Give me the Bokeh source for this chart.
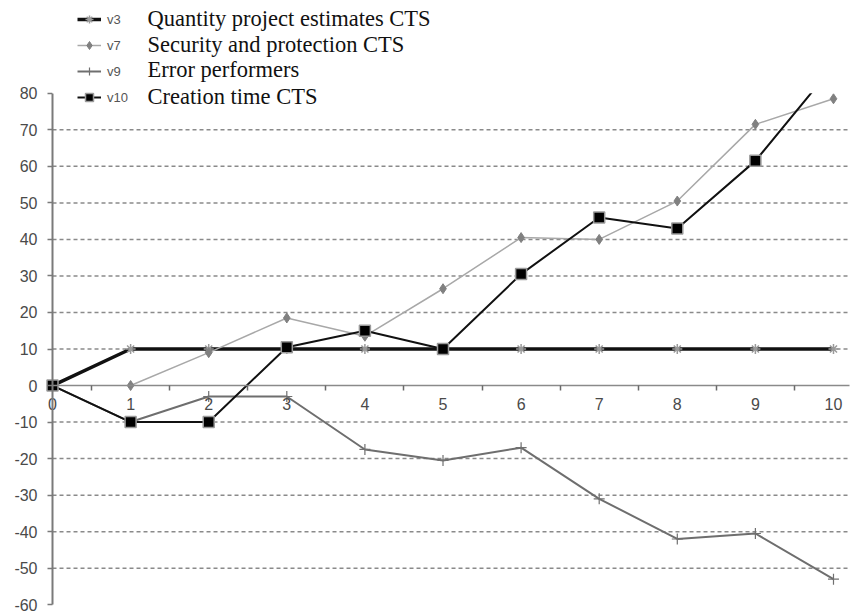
from bokeh.plotting import figure
from bokeh.models import (FixedTicker, Legend, LegendItem, Label, Range1d,
                          BoxAnnotation, PrintfTickFormatter)
from bokeh.embed import file_html
from bokeh.resources import INLINE

# ---- data ----
x = list(range(11))
v3 = [0, 10, 10, 10, 10, 10, 10, 10, 10, 10, 10]
v7_x = list(range(1, 11))
v7 = [0, 9, 18.5, 13.5, 26.5, 40.5, 40, 50.5, 71.5, 78.5]
v9 = [0, -10, -3, -3, -17.5, -20.5, -17, -31, -42, -40.5, -53]
v10 = [0, -10, -10, 10.5, 15, 10, 30.5, 46, 43, 61.5, 87.5]
x_ticks = list(range(0, 11))
x_minor_ticks = [i + 0.5 for i in range(10)]
y_ticks = list(range(-60, 90, 10))
grid_ticks = [-50, -40, -30, -20, -10, 10, 20, 30, 40, 50, 60, 70]
codes = ["v3", "v7", "v9", "v10"]
names = ["Quantity project estimates CTS", "Security and protection CTS",
         "Error performers", " Creation time CTS"]

W, H = 854, 613
Y_MIN, Y_MAX = -60, 80
X_END = 10.2           # right end of axis / grid lines

p = figure(width=W, height=H, output_backend="svg", toolbar_location=None,
           x_range=Range1d(-0.666, 10.269), y_range=Range1d(-62.4, 105.4),
           min_border_left=0, min_border_right=0, min_border_top=0,
           min_border_bottom=0)
p.outline_line_color = None
p.xgrid.visible = False
p.ygrid.visible = False

# axes, both crossing at the origin
xa = p.xaxis[0]
xa.fixed_location = 0
xa.bounds = (x_ticks[0], X_END)
xa.ticker = FixedTicker(ticks=x_ticks, minor_ticks=x_minor_ticks)
xa.axis_line_color = "#8a8a8a"
xa.axis_line_width = 1.5
xa.major_tick_line_color = None
xa.major_tick_out = 5
xa.major_tick_in = 0
xa.minor_tick_line_color = "#6a6a6a"
xa.minor_tick_line_width = 1.5
xa.minor_tick_out = 5
xa.minor_tick_in = 0
xa.major_label_standoff = 7
xa.major_label_text_font = "Liberation Sans"
xa.major_label_text_font_size = "16px"
xa.major_label_text_color = "#4a4a4a"

ya = p.yaxis[0]
ya.fixed_location = 0
ya.bounds = (Y_MIN, Y_MAX)
ya.ticker = FixedTicker(ticks=y_ticks)
ya.formatter = PrintfTickFormatter(format="%d")
ya.axis_line_color = "#7a7a7a"
ya.axis_line_width = 2
ya.major_tick_line_color = "#7a7a7a"
ya.major_tick_line_width = 1.5
ya.major_tick_out = 5
ya.major_tick_in = 0
ya.minor_tick_line_color = None
ya.major_label_standoff = 10
ya.major_label_text_font = "Liberation Sans"
ya.major_label_text_font_size = "16px"
ya.major_label_text_color = "#4a4a4a"

# dashed horizontal grid lines, from the y axis to the right end
p.segment(x0=[x_ticks[0]] * len(grid_ticks), y0=grid_ticks,
          x1=[X_END] * len(grid_ticks), y1=grid_ticks,
          line_color="#8a8a8a", line_width=1.5, line_dash="4 3")

# series
l3 = p.line(x, v3, line_color="#111111", line_width=3.5)
m3 = p.scatter(x, v3, marker="asterisk", size=10, line_color="#9a9a9a", line_width=1.5)
l7 = p.line(v7_x, v7, line_color="#a8a8a8", line_width=1.5)
m7 = p.scatter(v7_x, v7, marker="diamond", size=10, fill_color="#808080", line_color="#808080")
l9 = p.line(x, v9, line_color="#6e6e6e", line_width=2)
m9 = p.scatter(x, v9, marker="cross", size=11, line_color="#707070", line_width=1.2)
l10 = p.line(x, v10, line_color="#111111", line_width=2)
m10 = p.scatter(x, v10, marker="square", size=11, fill_color="#000000", line_color="#9a9a9a", line_width=1.5)

# the plot area ends at the top of the y axis: mask anything above it
p.add_layout(BoxAnnotation(left=x_ticks[0], bottom=Y_MAX, fill_color="white",
                           fill_alpha=1, line_color=None))

items = [LegendItem(label=codes[0], renderers=[l3, m3]),
         LegendItem(label=codes[1], renderers=[l7, m7]),
         LegendItem(label=codes[2], renderers=[l9, m9]),
         LegendItem(label=codes[3], renderers=[l10, m10])]
legend = Legend(items=items, location=(77, H - 107),
                glyph_width=24, glyph_height=20, label_height=20, spacing=6,
                padding=0, margin=0, label_standoff=6,
                border_line_color=None, background_fill_alpha=0,
                label_text_font="Liberation Sans", label_text_font_size="13px",
                label_text_color="#555555")
p.add_layout(legend, "center")

row_y = [18, 44, 69, 96]
for name, ry in zip(names, row_y):
    p.add_layout(Label(x=147, y=H - ry, x_units="screen", y_units="screen",
                       text=name, text_font="Liberation Serif", text_font_size="22.5px",
                       text_color="#111111", text_baseline="middle"))

open("out.html", "w").write(file_html(p, INLINE))
